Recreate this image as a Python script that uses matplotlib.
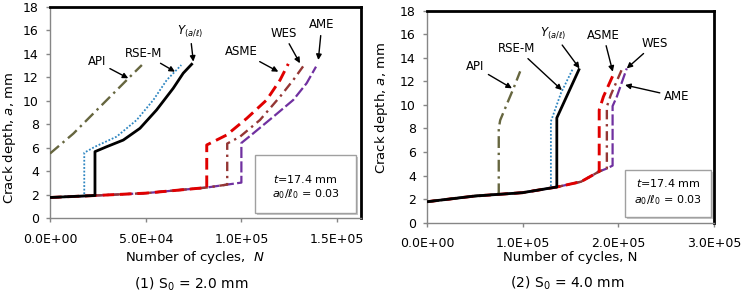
import matplotlib
matplotlib.use("Agg")
import matplotlib.pyplot as plt
from matplotlib.patches import Rectangle

plt.rcParams['font.family'] = ['DejaVu Sans']
plt.rcParams['mathtext.fontset'] = 'dejavusans'

# ---------------- data: panel (1) S0 = 2.0 mm ----------------
p1_api_N = [0, 1.22e4, 2.44e4, 3.48e4, 4.18e4, 4.8e4]
p1_api_a = [5.5, 7.2, 9.2, 10.9, 12.05, 13.05]
p1_rse_N = [0, 1.79e4, 1.79e4, 2.35e4, 3.48e4, 4.53e4, 5.4e4, 6.1e4, 6.86e4]
p1_rse_a = [1.75, 1.88, 5.57, 6.08, 6.94, 8.36, 10.07, 11.77, 13.05]
p1_y_N = [0, 1.79e4, 2.35e4, 2.35e4, 2.96e4, 3.83e4, 4.7e4, 5.57e4, 6.44e4, 6.96e4, 7.45e4]
p1_y_a = [1.75, 1.88, 1.92, 5.66, 6.08, 6.65, 7.65, 9.22, 11.07, 12.35, 13.2]
p1_asme_N = [0, 2.4e4, 5e4, 8.19e4, 8.19e4, 9.23e4, 1.028e5, 1.132e5, 1.202e5, 1.245e5]
p1_asme_a = [1.75, 1.92, 2.12, 2.6, 6.23, 7.08, 8.5, 10.07, 11.77, 13.15]
p1_wes_N = [0, 2.4e4, 5e4, 8.19e4, 9.26e4, 9.26e4, 9.93e4, 1.097e5, 1.202e5, 1.271e5, 1.332e5]
p1_wes_a = [1.75, 1.92, 2.12, 2.6, 2.85, 6.35, 6.94, 8.36, 10.35, 11.77, 13.15]
p1_ame_N = [0, 2.4e4, 5e4, 8.19e4, 9.26e4, 1.0e5, 1.0e5, 1.062e5, 1.167e5, 1.271e5, 1.341e5, 1.39e5]
p1_ame_a = [1.75, 1.92, 2.12, 2.6, 2.85, 3.02, 6.4, 7.22, 8.64, 10.07, 11.5, 12.91]

# ---------------- data: panel (2) S0 = 4.0 mm ----------------
p2_api_N = [0, 4.94e4, 7.5e4, 7.5e4, 7.65e4, 8.52e4, 9.04e4, 9.74e4]
p2_api_a = [1.78, 2.26, 2.45, 8.0, 8.7, 10.4, 11.4, 12.85]
p2_rse_N = [0, 4.94e4, 1.0e5, 1.295e5, 1.295e5, 1.4e5, 1.52e5]
p2_rse_a = [1.78, 2.26, 2.55, 2.95, 8.6, 11.0, 13.0]
p2_y_N = [0, 4.94e4, 1.0e5, 1.295e5, 1.357e5, 1.357e5, 1.594e5]
p2_y_a = [1.78, 2.26, 2.55, 2.95, 3.03, 8.9, 13.1]
p2_asme_N = [0, 4.94e4, 1.0e5, 1.357e5, 1.61e5, 1.8e5, 1.8e5, 1.844e5, 1.956e5]
p2_asme_a = [1.78, 2.26, 2.55, 3.03, 3.48, 4.35, 9.57, 10.7, 12.73]
p2_wes_N = [0, 4.94e4, 1.0e5, 1.357e5, 1.61e5, 1.8e5, 1.88e5, 1.88e5, 1.921e5, 2.036e5]
p2_wes_a = [1.78, 2.26, 2.55, 3.03, 3.48, 4.35, 4.6, 9.85, 10.84, 13.0]
p2_ame_N = [0, 4.94e4, 1.0e5, 1.357e5, 1.61e5, 1.8e5, 1.88e5, 1.94e5, 1.94e5, 1.984e5, 2.088e5]
p2_ame_a = [1.78, 2.26, 2.55, 3.03, 3.48, 4.35, 4.6, 4.85, 9.9, 10.7, 13.1]

labels = ["API", "RSE-M", r"$Y_{(a/\ell)}$", "ASME", "WES", "AME"]
p1_ticks = [0, 5e4, 1e5, 1.5e5]
p2_ticks = [0, 1e5, 2e5, 3e5]

# ---------------- styling ----------------
colors = ["#66663f", "#2e86c1", "#000000", "#e00000", "#943634", "#7030a0"]
styles = [(0, (5, 2, 1, 2)), (0, (1, 1)), "-", (0, (4, 2)), (0, (4, 2, 1, 2)), (0, (5, 1.5))]
widths = [1.7, 1.3, 2.0, 2.1, 1.7, 1.6]

W, H = 748, 295
fig = plt.figure(figsize=(W / 100, H / 100), dpi=100)


def pbox(x0, y0, x1, y1):
    return [x0 / W, 1 - y1 / H, (x1 - x0) / W, (y1 - y0) / H]


ax1 = fig.add_axes(pbox(50, 7, 361, 218))
ax2 = fig.add_axes(pbox(427, 10.7, 714, 222.7))


def style(ax, xmax, xticks, xpad):
    ax.set_xlim(0, xmax)
    ax.set_ylim(0, 18)
    ax.set_yticks(range(0, 19, 2))
    ax.set_xticks(xticks)
    ax.set_xticklabels([f"{t:.1E}" for t in xticks])
    for s in ['left', 'bottom']:
        ax.spines[s].set_color('#868686')
        ax.spines[s].set_linewidth(1)
    for s in ['top', 'right']:
        ax.spines[s].set_color('black')
        ax.spines[s].set_linewidth(2)
    ax.tick_params(direction='out', length=3, width=1, color='#868686',
                   labelsize=9, labelcolor='black')
    ax.tick_params(axis='x', pad=xpad)
    ax.tick_params(axis='y', pad=5)


style(ax1, 1.625e5, p1_ticks, 8)
style(ax2, 3.0e5, p2_ticks, 7)

p1 = [(p1_api_N, p1_api_a), (p1_rse_N, p1_rse_a), (p1_y_N, p1_y_a),
      (p1_asme_N, p1_asme_a), (p1_wes_N, p1_wes_a), (p1_ame_N, p1_ame_a)]
p2 = [(p2_api_N, p2_api_a), (p2_rse_N, p2_rse_a), (p2_y_N, p2_y_a),
      (p2_asme_N, p2_asme_a), (p2_wes_N, p2_wes_a), (p2_ame_N, p2_ame_a)]

order = [5, 4, 3, 0, 1, 2]
for ax, series in ((ax1, p1), (ax2, p2)):
    for i in order:
        N, a = series[i]
        ax.plot(N, a, color=colors[i], linestyle=styles[i], linewidth=widths[i],
                solid_capstyle='butt', zorder=3)

# annotations (text position, arrow tip) in data units
p1_ann = [((2.44e4, 13.34), (4.09e4, 11.92)),
          ((4.88e4, 14.05), (6.53e4, 12.48)),
          ((7.31e4, 15.9), (7.49e4, 13.34)),
          ((1.0e5, 14.19), (1.193e5, 12.48)),
          ((1.219e5, 15.76), (1.306e5, 13.2)),
          ((1.42e5, 16.47), (1.402e5, 13.48))]
p2_ann = [((5.04e4, 13.24), (8.88e4, 11.41)),
          ((9.4e4, 14.8), (1.41e5, 11.26)),
          ((1.322e5, 16.08), (1.594e5, 13.1)),
          ((1.844e5, 15.93), (1.942e5, 12.82)),
          ((2.384e5, 15.23), (2.088e5, 13.1)),
          ((2.61e5, 10.7), (2.07e5, 11.69))]

for ax, anns in ((ax1, p1_ann), (ax2, p2_ann)):
    for lab, (txt, tip) in zip(labels, anns):
        ax.annotate(lab, xy=tip, xytext=txt, ha='center', va='center', fontsize=8.5,
                    zorder=6,
                    arrowprops=dict(arrowstyle='-|>', color='black', lw=1,
                                    mutation_scale=8, shrinkA=1, shrinkB=0))


def note_box(ax, x0, y0, x1, y1, ty1, ty2):
    sh = Rectangle((x0 + 0.006, y0 - 0.012), x1 - x0, y1 - y0, transform=ax.transAxes,
                   fc='#c8c8c8', ec='none', zorder=4, clip_on=False)
    ax.add_patch(sh)
    r = Rectangle((x0, y0), x1 - x0, y1 - y0, transform=ax.transAxes,
                  fc='white', ec='#a0a0a0', lw=1, zorder=5, clip_on=False)
    ax.add_patch(r)
    cx = (x0 + x1) / 2
    ax.text(cx, ty1, r"$t$=17.4 mm", transform=ax.transAxes, ha='center', va='center',
            fontsize=8, zorder=6)
    ax.text(cx, ty2, r"$a_0/\ell_0$ = 0.03", transform=ax.transAxes, ha='center',
            va='center', fontsize=8, zorder=6)


note_box(ax1, 0.659, 0.024, 0.985, 0.299, 0.183, 0.112)
note_box(ax2, 0.69, 0.028, 0.99, 0.249, 0.189, 0.107)


def ftext(x, y, s, **kw):
    fig.text(x / W, 1 - y / H, s, ha='center', va='center', **kw)


ftext(10, 138, r"Crack depth, $a$, mm", rotation=90, fontsize=9.5)
ftext(381, 108, r"Crack depth, $a$, mm", rotation=90, fontsize=9.5)
ftext(195, 257, r"Number of cycles,  $N$", fontsize=9.5)
ftext(570, 258, "Number of cycles, N", fontsize=9.5)
ftext(191, 284, r"(1) S$_0$ = 2.0 mm", fontsize=10)
ftext(567, 283, r"(2) S$_0$ = 4.0 mm", fontsize=10)

fig.savefig("out.png", dpi=100)
